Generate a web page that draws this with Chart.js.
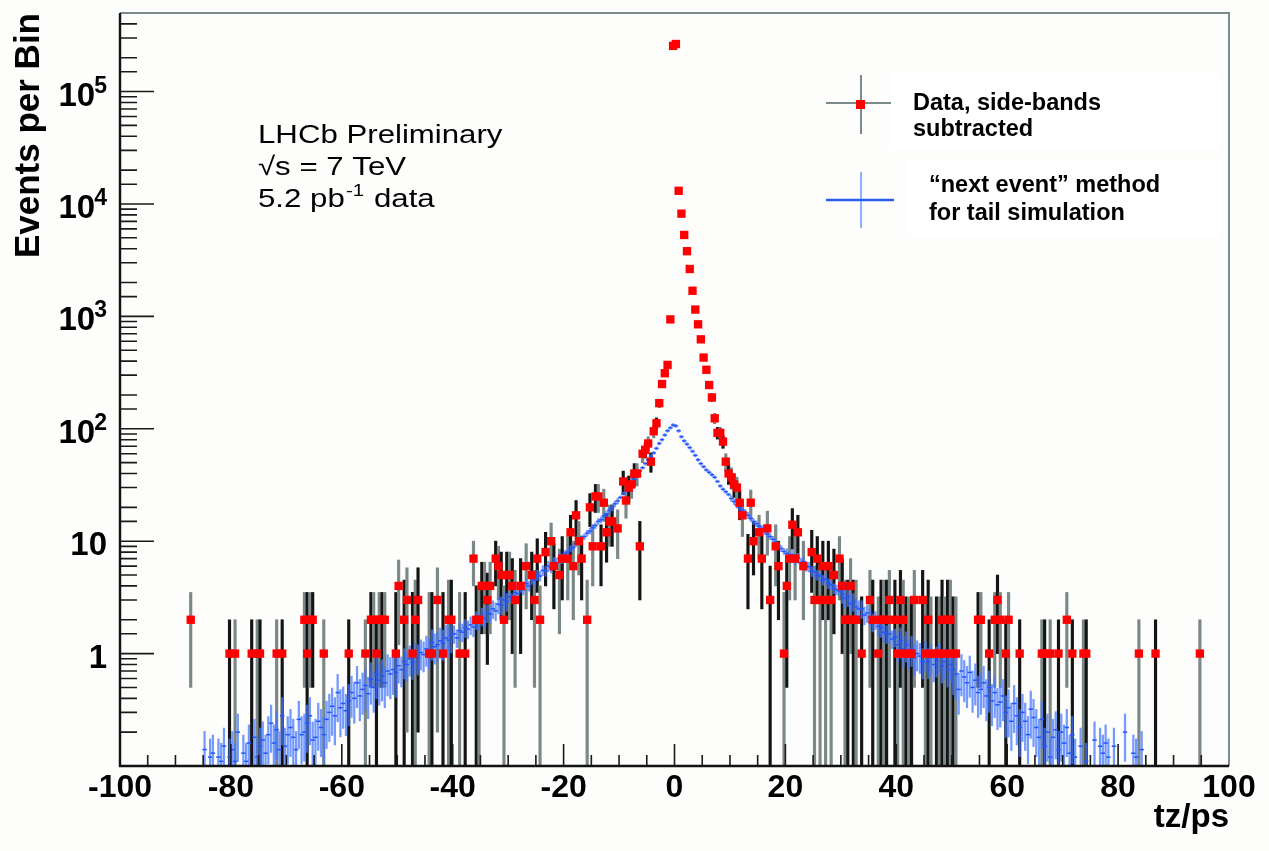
<!DOCTYPE html>
<html><head><meta charset="utf-8">
<script src="https://cdn.jsdelivr.net/npm/chart.js@4.4.1/dist/chart.umd.min.js"></script>
<style>
html,body{margin:0;padding:0;background:#fdfdfb;}
#wrap{width:1269px;height:851px;position:relative;}
canvas{display:block;}
</style>
</head><body>
<div id="wrap"><canvas id="c" width="1269" height="851"></canvas></div>
<script>
// ---------------- DATA ----------------
// Red: data, side-bands subtracted (bin centres in ps, events, error)
const dataX = [-87.25,-80.25,-79.25,-76.25,-75.25,-74.75,-71.75,-70.75,-66.75,-66.25,-65.75,-65.25,-63.25,-58.75,-55.75,-54.75,-54.25,-53.75,-53.25,-52.75,-52.25,
-50.25,-49.75,-48.75,-48.25,-47.25,-46.75,-46.25,-44.25,-43.75,-42.75,-41.75,-40.75,-40.25,-38.75,-37.75,
-36.25,-35.75,-35.25,-34.75,-34.25,-33.75,-33.25,-32.25,-31.75,-31.25,-30.75,-30.25,-29.75,-29.25,-28.75,-27.75,-26.75,-25.75,-25.25,
-24.75,-24.25,-23.25,-22.25,-21.75,-20.75,-20.25,-19.25,-18.75,-18.25,-17.75,-17.25,-16.75,-15.75,-15.25,-14.75,-14.25,-13.75,-13.25,
-12.75,-12.25,-11.75,-11.25,-10.25,-9.25,-8.75,-8.25,-7.75,-7.25,-6.75,-6.25,-5.75,-5.25,-4.75,-4.25,-3.75,-3.25,-2.75,-2.25,-1.75,-1.25,-0.75,-0.25,
0.25,0.75,1.25,1.75,2.25,2.75,3.25,3.75,4.25,4.75,5.25,5.75,6.25,6.75,7.25,7.75,8.25,8.75,9.25,9.75,10.25,10.75,11.25,11.75,12.25,
13.25,13.75,14.25,15.25,15.75,16.75,17.25,18.25,18.75,19.75,20.25,20.75,21.25,21.75,22.25,23.25,24.75,25.25,25.75,26.25,26.75,27.25,27.75,28.25,28.75,29.75,
30.25,30.75,31.25,31.75,32.25,32.75,33.75,35.25,35.75,36.75,37.25,37.75,38.25,38.75,39.75,40.25,40.75,41.25,41.75,42.25,42.75,43.25,44.75,
45.25,45.75,46.25,47.25,47.75,48.25,48.75,49.25,49.75,50.25,50.75,54.75,55.25,56.75,57.75,58.25,58.75,59.75,60.25,62.25,
66.25,66.75,67.75,69.25,70.75,71.75,73.75,74.25,83.75,86.75,94.75];
const dataY = [2,1,1,1,1,1,1,1,2,1,2,2,1,1,1,2,2,1,2,2,2,
1,4,2,3,1,2,3,1,1,3,1,2,2,1,1,
7,2,2,4,4,3,4,7,6,5,2,5,5,4,3,4,6,5,3,
7,2,8,10,6,5,7,7,12,6,17,10,7,2,20,9,25,25,9,
22,12,15,15,13,34,23,30,32,40,40,9,60,65,74,51,95,112,169,250,312,370,940,255000,
265000,13100,8200,5300,3800,2640,1690,1150,850,625,430,335,245,190,124,92,92,77,51,40,37,32,30,22,17,
7,22,10,12,7,13,3,9,6,1,4,7,14,7,12,6,8,3,7,3,6,3,6,3,5,7,
4,2,2,4,2,2,1,3,2,1,2,2,2,3,2,1,3,2,1,1,1,3,3,
1,2,1,1,1,2,1,2,2,1,1,2,2,1,2,3,2,1,2,1,
1,1,1,1,2,1,1,1,1,1,1];
const dataErr = [1.5,1,1,1,1,1,1,1,1.5,2.5,1.5,1.5,1,1,1,1.5,1.5,1,1.5,1.5,1.5,
2.5,2.8,2.5,2.8,2.5,2.5,2.8,2.5,2.5,2.8,2.5,2.5,2.5,2.5,2.5,
3,2,2,2.5,2.5,2.2,2.5,3,3,3,2,3,3,3,2.5,3,3.5,3,2.5,
3.5,2,4,4.5,3.5,3.5,4,4,5,4,6,5,4,2.5,6.5,5,7,7,5,
7,5.5,6,6,6,8,7,8,8,9,9,6,10,10,11,10,12,13,15,18,20,22,35,600,
600,130,100,80,70,60,45,40,32,28,23,20,17,15,13,11,11,10,9,8,8,7.5,7,6.5,6,
4.5,6.5,5,5,4.5,5.5,3,5,4,2.5,3.5,4,5.5,4,5,4,4.5,3,4,3,4,3,4,3,3.5,4,
3,2.5,2.5,3,2.5,2.5,2.2,2.5,2.5,2.2,2.5,2.5,2.5,2.5,2.5,2.2,2.5,2.5,2.2,2.2,2.2,2.5,2.5,
2.2,2.5,2.2,2.2,2.2,2.5,2.2,2.5,2.5,2.2,2.2,1.5,1.5,1,1.5,2,1.5,1,1.5,1,
1,1,1,1,1.5,1,1,1,1,1,1];

// Blue: "next event" method for tail simulation, 0.5 ps bins starting at -84.75 ps (null = empty bin)
const mcFirstCenter = -84.75;
const mcBinWidth = 0.5;
const mcY = [
0.14,null,0.12,0.13,null,0.12,0.11,0.15,null,0.12,
0.14,0.11,0.2,null,0.13,0.11,0.16,null,0.18,0.12,
0.15,0.17,0.13,0.19,0.24,0.16,0.21,0.14,0.28,0.15,
0.19,0.22,0.18,0.14,0.26,0.19,0.2,0.24,0.28,0.17,
0.18,0.25,0.22,0.19,0.26,0.3,0.34,0.28,0.45,0.33,
0.36,0.31,0.38,0.45,0.4,0.55,0.42,0.48,0.52,0.44,
0.59,0.5,0.66,0.58,0.63,0.55,0.7,0.66,0.72,0.68,
0.78,0.72,0.85,0.8,0.9,0.84,0.95,0.92,1.02,0.98,
1.1,1.05,1.25,1.15,1.2,1.3,1.24,1.38,1.32,1.45,
1.5,1.38,1.6,1.55,1.7,1.65,1.8,1.72,2.0,1.95,
2.15,2.05,2.3,2.25,2.5,2.4,2.75,2.7,3.0,2.9,
3.2,3.1,3.5,3.4,3.9,3.7,4.2,4.0,4.6,4.5,
5.0,4.9,5.5,5.4,6.0,5.8,6.5,6.4,7.1,7.0,
7.8,8.0,8.6,8.8,9.5,9.8,10.6,11.0,11.8,12.3,
13.2,13.8,15.0,15.5,16.8,17.5,18.8,19.8,21.5,22.8,
24.5,26.5,28,30.5,33,35.5,38.5,42,45,49,
53,57,61,67,74,80,88,96,102,108,
106,96,85,78,73,68,63,58,53,49,
46,43,41,39,37,34,31,29,27.5,26,
24,22.5,21,20,19,18,17,16,15,14.3,
13.6,13,12.2,11.6,11,10.4,9.8,9.2,8.6,8.1,
7.8,7.2,7.6,6.8,7.1,6.4,6.6,6.0,5.9,5.4,
5.3,5.0,4.9,4.5,4.6,4.2,4.1,3.8,3.7,3.6,
3.4,3.1,3.2,2.8,2.9,2.6,2.5,2.5,2.2,2.3,
2.1,1.9,2.0,1.75,1.7,1.55,1.5,1.5,1.35,1.4,
1.2,1.3,1.1,1.2,1.02,1.1,0.92,1.0,0.95,0.85,
0.98,0.85,0.92,0.8,0.88,0.95,0.78,0.85,0.72,0.8,
0.72,0.66,0.48,0.7,0.62,0.55,0.68,0.5,0.58,0.45,
0.48,0.55,0.42,0.5,0.38,0.45,0.35,0.37,0.42,0.3,
0.33,0.25,0.36,0.28,0.22,0.3,0.25,0.19,0.32,0.27,
0.22,0.18,0.26,0.15,0.2,0.12,0.18,0.21,0.14,0.2,
0.16,0.22,0.13,0.19,0.12,null,0.15,null,0.11,null,
null,0.17,null,0.15,0.13,0.16,0.12,null,0.15,null,
null,null,0.2,null,null,0.13,0.12,null,0.14,null];
// relative error of blue points, per 10 ps band of |tz|
const mcRelErr = [0.03,0.06,0.1,0.18,0.3,0.4,0.45,0.45,0.45];

// Axes
const xMin = -100, xMax = 100, xMinorStep = 5, xMajorStep = 20;
const yMin = 0.1, yMax = 5e5;
const yDecades = [1, 10, 100, 1000, 10000, 100000];
const yLabelBase = ['1', '10', '10', '10', '10', '10'];
const yLabelExp = ['', '', '2', '3', '4', '5'];
const seriesNames = ['Data, side-bands', 'subtracted', '\u201Cnext event\u201D method', 'for tail simulation'];
const noteLines = ['LHCb Preliminary', '\u221As = 7 TeV', '5.2 pb', '-1', ' data'];

// ---------------- BUILD ----------------
const FONT = "'Liberation Sans', Arial, Helvetica, sans-serif";
const redPts = dataX.map((x, i) => ({x, y: dataY[i]}));
const redBars = dataX.map((x, i) => ({x, y: [Math.max(dataY[i] - dataErr[i], 0.02), dataY[i] + dataErr[i]]}));
const mcPts = [], mcBars = [];
mcY.forEach((v, i) => {
  if (v == null) return;
  const x = mcFirstCenter + i * mcBinWidth;
  const r = mcRelErr[Math.min(Math.floor(Math.abs(x) / 10), mcRelErr.length - 1)];
  mcPts.push({x, y: v});
  mcBars.push({x, y: [v * (1 - r), v * (1 + r)]});
});
const isDecade = v => Math.abs(Math.log10(v) - Math.round(Math.log10(v))) < 1e-6;

const decorPlugin = {
  id: 'decor',
  beforeDraw(chart) {
    const ctx = chart.ctx;
    ctx.save();
    ctx.fillStyle = '#fdfdfb';
    ctx.fillRect(0, 0, chart.width, chart.height);
    ctx.restore();
  },
  afterDatasetsDraw(chart) {
    const ctx = chart.ctx, a = chart.chartArea;
    const xs = chart.scales.x, ys = chart.scales.y;
    ctx.save();
    ctx.strokeStyle = '#1a1a1a';
    ctx.lineWidth = 1.6;
    ctx.beginPath();
    xs.ticks.forEach(t => {
      const px = xs.getPixelForValue(t.value);
      const major = Math.abs(t.value % xMajorStep) < 1e-9;
      ctx.moveTo(px, a.bottom);
      ctx.lineTo(px, a.bottom - (major ? 22 : 11));
    });
    ys.ticks.forEach(t => {
      if (t.value <= yMin * 1.0001 || t.value > yMax) return;
      const py = ys.getPixelForValue(t.value);
      ctx.moveTo(a.left, py);
      ctx.lineTo(a.left + (isDecade(t.value) ? 34 : 17), py);
    });
    ctx.stroke();
    // frame
    ctx.strokeStyle = '#7b8a8a';
    ctx.lineWidth = 2;
    ctx.beginPath();
    ctx.moveTo(a.left, a.top); ctx.lineTo(a.right, a.top); ctx.lineTo(a.right, a.bottom);
    ctx.stroke();
    ctx.strokeStyle = '#111';
    ctx.lineWidth = 2.4;
    ctx.beginPath();
    ctx.moveTo(a.left, a.top); ctx.lineTo(a.left, a.bottom); ctx.lineTo(a.right, a.bottom);
    ctx.stroke();
    ctx.restore();
  },
  afterDraw(chart) {
    const ctx = chart.ctx, ys = chart.scales.y, a = chart.chartArea;
    ctx.save();
    ctx.fillStyle = '#000';
    ctx.textBaseline = 'alphabetic';

    // y tick labels: "10" with superscript exponent, placed through the y scale
    yDecades.forEach((d, i) => {
      const py = ys.getPixelForValue(d);
      const right = a.left - 14;
      ctx.font = 'bold 23px ' + FONT;
      const we = yLabelExp[i] ? ctx.measureText(yLabelExp[i]).width : 0;
      ctx.textAlign = 'right';
      if (yLabelExp[i]) {
        ctx.fillText(yLabelExp[i], right + 1, py + 1);
      }
      ctx.font = 'bold 33px ' + FONT;
      ctx.fillText(yLabelBase[i], right - we + (yLabelExp[i] ? 2 : 0) + (yLabelExp[i] ? 0 : 1), py + 14);
    });

    // annotation (horizontally stretched text as in the original)
    ctx.textAlign = 'left';
    ctx.save();
    ctx.translate(258, 0);
    ctx.scale(1.2, 1);
    ctx.font = '26px ' + FONT;
    ctx.fillText(noteLines[0], 0, 143);
    ctx.fillText(noteLines[1], 0, 175);
    ctx.fillText(noteLines[2], 0, 207);
    const w = ctx.measureText(noteLines[2]).width;
    ctx.font = '17px ' + FONT;
    ctx.fillText(noteLines[3], w + 1, 196);
    const w2 = ctx.measureText(noteLines[3]).width;
    ctx.font = '26px ' + FONT;
    ctx.fillText(noteLines[4], w + w2 + 2, 207);
    ctx.restore();

    // legend
    ctx.fillStyle = '#ffffff';
    ctx.fillRect(890, 73, 330, 77);
    ctx.fillRect(907, 160, 313, 77);
    ctx.strokeStyle = '#7b8a8a';
    ctx.lineWidth = 2;
    ctx.beginPath();
    ctx.moveTo(826, 103); ctx.lineTo(891, 103);
    ctx.moveTo(861, 75); ctx.lineTo(861, 134);
    ctx.stroke();
    ctx.fillStyle = '#ff0000';
    ctx.fillRect(856, 100, 9, 9);
    ctx.strokeStyle = '#8fb0ff';
    ctx.lineWidth = 2;
    ctx.beginPath();
    ctx.moveTo(861, 172); ctx.lineTo(861, 228);
    ctx.stroke();
    ctx.strokeStyle = '#2a5ef2';
    ctx.lineWidth = 2.5;
    ctx.beginPath();
    ctx.moveTo(826, 200); ctx.lineTo(894, 200);
    ctx.stroke();
    ctx.fillStyle = '#000';
    ctx.font = 'bold 23.5px ' + FONT;
    ctx.fillText(seriesNames[0], 913, 110);
    ctx.fillText(seriesNames[1], 913, 136);
    ctx.fillText(seriesNames[2], 929, 192);
    ctx.fillText(seriesNames[3], 929, 220);
    ctx.restore();
  }
};

new Chart(document.getElementById('c'), {
  type: 'bar',
  data: {
    datasets: [
      {
        type: 'bar', label: 'data errors', data: redBars, grouped: false,
        barThickness: 2.5, borderWidth: 0,
        backgroundColor: c => (c.dataIndex % 2 ? '#141414' : '#7b8888'),
        order: 4
      },
      {
        type: 'bar', label: 'simulation errors', data: mcBars, grouped: false,
        barThickness: 1.6, borderWidth: 0,
        backgroundColor: 'rgba(70,120,255,0.75)',
        order: 3
      },
      {
        type: 'line', label: '\u201Cnext event\u201D method for tail simulation', data: mcPts, showLine: false,
        pointStyle: 'line', pointRadius: 2.2, pointBorderWidth: 1.5,
        pointBorderColor: '#2255ff', pointBackgroundColor: '#2255ff',
        order: 2
      },
      {
        type: 'line', label: 'Data, side-bands subtracted', data: redPts, showLine: false,
        pointStyle: 'rect', pointRadius: 5.9, pointBorderWidth: 0,
        pointBackgroundColor: '#ff0000', pointBorderColor: '#ff0000',
        order: 1
      }
    ]
  },
  options: {
    responsive: false,
    animation: false,
    events: [],
    layout: {padding: {left: 0, top: 13, right: 40, bottom: 0}},
    plugins: {legend: {display: false}, tooltip: {enabled: false}, title: {display: false}},
    scales: {
      x: {
        type: 'linear', min: xMin, max: xMax, offset: false,
        grid: {display: false, drawTicks: false, offset: false},
        border: {display: false},
        ticks: {
          stepSize: xMinorStep, autoSkip: false, maxRotation: 0, minRotation: 0, padding: 3,
          color: '#000', font: {family: FONT, weight: 'bold', size: 32},
          callback: v => (Math.abs(v % xMajorStep) < 1e-9 ? String(v) : '')
        },
        title: {display: true, text: 'tz/ps', align: 'end', color: '#000',
                font: {family: FONT, weight: 'bold', size: 33}, padding: {top: 0, bottom: 13}},
        afterFit: s => { s.height = 85; s.paddingLeft = 0; s.paddingRight = 0; }
      },
      y: {
        type: 'logarithmic', min: yMin, max: yMax,
        grid: {display: false, drawTicks: false},
        border: {display: false},
        ticks: {display: false, autoSkip: false},
        title: {display: true, text: 'Events per Bin', align: 'end', color: '#000',
                font: {family: FONT, weight: 'bold', size: 35}, padding: {top: 8, bottom: 0}},
        afterFit: s => { s.width = 120; s.paddingTop = 0; s.paddingBottom = 0; }
      }
    }
  },
  plugins: [decorPlugin]
});
</script>
</body></html>
